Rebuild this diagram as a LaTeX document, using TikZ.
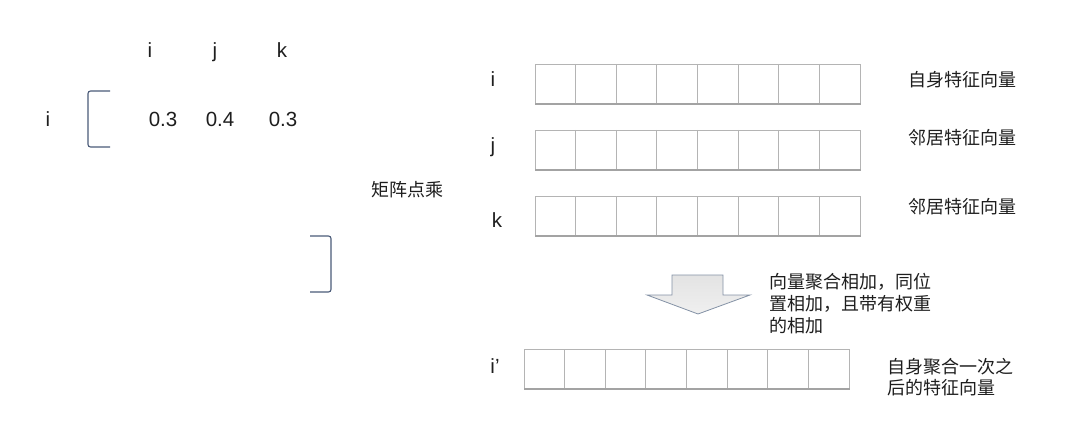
\documentclass[tikz,border=0pt]{standalone}
\usepackage{fontspec}
\setmainfont{Liberation Sans}
\newfontfamily\cjk{Noto Sans CJK SC}
\usetikzlibrary{calc}
\definecolor{brk}{HTML}{4A5A78}
\definecolor{cellc}{HTML}{B4B4B4}
\definecolor{cellb}{HTML}{A3A3A3}
\definecolor{arrd}{HTML}{8391A5}
\definecolor{txt}{HTML}{1E1E1E}
\tikzset{
  lat/.style={inner sep=0pt, anchor=base, text=txt, font=\fontsize{20.5}{24}\selectfont},
  zh/.style={inner sep=0pt, anchor=west, text=txt, font=\cjk\fontsize{18}{22}\selectfont},
  vecrow/.style={draw=cellc, line width=1.1pt, minimum width=325pt, minimum height=39pt, inner sep=0pt, anchor=north west},
  cellline/.style={draw=cellc, line width=1.1pt},
  bottomline/.style={draw=cellb, line width=2.4pt},
  bracket/.style={draw=brk, line width=1.1pt, rounded corners=2.5pt},
  bigarrow/.style={draw=arrd, top color=gray!22, bottom color=gray!12, line width=0.8pt, line join=miter}
}
\begin{document}
\begin{tikzpicture}[x=1pt,y=-1pt]
\useasboundingbox (0,0) rectangle (1070,441);
% left matrix
\node[lat] (hi) at (150,58) {i};
\node[lat] (hj) at (215,58) {j};
\node[lat] (hk) at (282,58) {k};
\node[lat] (ri) at (48,126) {i};
\node[lat] (v1) at (163,126) {0.3};
\node[lat] (v2) at (220,126) {0.4};
\node[lat] (v3) at (283,126) {0.3};
\coordinate (lb1) at (110,91);
\coordinate (lb2) at (88,91);
\coordinate (lb3) at (88,147);
\coordinate (lb4) at (110,147);
\draw[bracket] (lb1) -- (lb2) -- (lb3) -- (lb4);
\coordinate (rb1) at (310,236);
\coordinate (rb2) at (331,236);
\coordinate (rb3) at (331,292);
\coordinate (rb4) at (310,292);
\draw[bracket] (rb1) -- (rb2) -- (rb3) -- (rb4);
\node[zh, anchor=center] (dot) at (407,190) {矩阵点乘};
% vectors
\node[vecrow] (vi) at (535,64) {};
\node[vecrow] (vj) at (535,130) {};
\node[vecrow] (vk) at (535,196) {};
\node[vecrow] (vp) at (524,349) {};
\foreach \r in {vi,vj,vk,vp}{
  \foreach \c in {1,...,7}{
    \draw[cellline] ($(\r.north west)+(\c*40.625,0)$) -- ($(\r.south west)+(\c*40.625,0)$);
  }
  \draw[bottomline] (\r.south west) -- (\r.south east);
}
\node[lat] (li) at (493,87) {i};
\node[lat] (lj) at (493,153) {j};
\node[lat] (lk) at (497,227) {k};
\node[lat] (lp) at (495,373) {i’};
\node[zh] (ti) at (908,80) {自身特征向量};
\node[zh] (tj) at (908,138) {邻居特征向量};
\node[zh] (tk) at (908,207) {邻居特征向量};
% arrow
\coordinate (a1) at (672,275);
\coordinate (a2) at (723,275);
\coordinate (a3) at (723,295);
\coordinate (a4) at (750,295);
\coordinate (a5) at (698,314);
\coordinate (a6) at (647,295);
\coordinate (a7) at (672,295);
\draw[bigarrow] (a1) -- (a2) -- (a3) -- (a4) -- (a5) -- (a6) -- (a7) -- cycle;
\node[zh] (n1) at (769,282) {向量聚合相加，同位};
\node[zh] (n2) at (769,304) {置相加，且带有权重};
\node[zh] (n3) at (769,326) {的相加};
\node[zh] (p1) at (887,367) {自身聚合一次之};
\node[zh] (p2) at (887,388) {后的特征向量};
\end{tikzpicture}
\end{document}
